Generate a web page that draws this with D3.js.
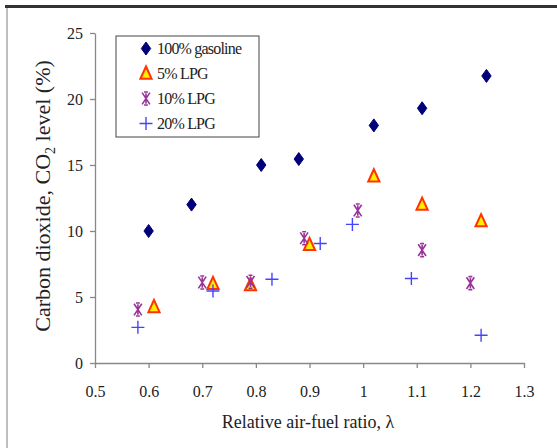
<!DOCTYPE html>
<html>
<head>
<meta charset="utf-8">
<script src="https://cdn.jsdelivr.net/npm/d3@7"></script>
<style>
  body { margin: 0; background: #fff; }
  svg { display: block; }
</style>
</head>
<body>
<svg id="chart" width="557" height="448"></svg>
<script>
// data
var seriesNames = ["100% gasoline", "5% LPG", "10% LPG", "20% LPG"]
var gasolineX = [0.60, 0.68, 0.81, 0.88, 1.02, 1.11, 1.23]
var gasolineY = [10.0, 12.0, 15.0, 15.45, 18.0, 19.3, 21.75]
var lpg5X = [0.61, 0.72, 0.79, 0.90, 1.02, 1.11, 1.22]
var lpg5Y = [4.25, 6.0, 5.9, 8.95, 14.15, 12.0, 10.75]
var lpg10X = [0.58, 0.70, 0.79, 0.89, 0.99, 1.11, 1.20]
var lpg10Y = [4.05, 6.1, 6.15, 9.45, 11.55, 8.55, 6.05]
var lpg20X = [0.58, 0.72, 0.83, 0.92, 0.98, 1.09, 1.22]
var lpg20Y = [2.7, 5.45, 6.35, 9.05, 10.5, 6.4, 2.1]
var xTicks = [0.5, 0.6, 0.7, 0.8, 0.9, 1, 1.1, 1.2, 1.3]
var yTicks = [0, 5, 10, 15, 20, 25]

var dims = {
    width: 557,
    height: 448,
    margin: { top: 33, bottom: 85, left: 95, right: 33 }
}
dims.boundedWidth = dims.width - dims.margin.left - dims.margin.right
dims.boundedHeight = dims.height - dims.margin.top - dims.margin.bottom

var serif = "Liberation Serif"
var svg = d3.select("#chart")

// outer frame (dark top edge, light left edge)
svg.append("line")
    .attr("x1", 5).attr("x2", 557).attr("y1", 6.5).attr("y2", 6.5)
    .attr("stroke", "#333").attr("stroke-width", 3)
svg.append("line")
    .attr("x1", 7).attr("x2", 7).attr("y1", 8).attr("y2", 448)
    .attr("stroke", "#aaa").attr("stroke-width", 1.5)

var g = svg.append("g")
    .attr("transform", "translate(" + dims.margin.left + "," + dims.margin.top + ")")

var xScale = d3.scaleLinear()
    .domain([0.5, 1.3])
    .range([0, dims.boundedWidth])

var yScale = d3.scaleLinear()
    .domain([0, 25])
    .range([dims.boundedHeight, 0])

var xAxis = g.append("g")
    .attr("transform", "translate(0," + dims.boundedHeight + ")")
    .call(d3.axisBottom(xScale).tickValues(xTicks).tickSize(5).tickPadding(18)
        .tickFormat(d3.format("~g")).tickSizeOuter(0))
var yAxis = g.append("g")
    .call(d3.axisLeft(yScale).tickValues(yTicks).tickSize(5).tickPadding(7).tickSizeOuter(0))

g.selectAll(".domain, .tick line").attr("stroke", "#888").attr("stroke-width", 1.3)
xAxis.attr("font-family", serif).attr("font-size", 16)
yAxis.attr("font-family", serif).attr("font-size", 16)
g.selectAll(".tick text").attr("fill", "#222")

// axis titles
svg.append("text")
    .attr("x", 308)
    .attr("y", 428)
    .attr("text-anchor", "middle")
    .attr("font-family", serif)
    .attr("font-size", 18)
    .attr("fill", "#222")
    .text("Relative air-fuel ratio, λ")

var yTitle = svg.append("text")
    .attr("transform", "rotate(-90)")
    .attr("x", -196)
    .attr("y", 50)
    .attr("text-anchor", "middle")
    .attr("font-family", serif)
    .attr("font-size", 22)
    .attr("fill", "#222")
yTitle.append("tspan").text("Carbon dioxide, CO")
yTitle.append("tspan").attr("dy", 5).attr("font-size", 14).text("2")
yTitle.append("tspan").attr("dy", -5).text(" level (%)")

// marker shapes
var symDiamond = function(s) {
    return "M0," + (-s) + "L" + (s * 0.72) + ",0L0," + s + "L" + (-s * 0.72) + ",0Z"
}
var symTriangle = function(s) {
    return "M0," + (-s) + "L" + (s * 0.8) + "," + (s * 0.75) + "L" + (-s * 0.8) + "," + (s * 0.75) + "Z"
}
var symStar = function(s) {
    return "M" + (-s * 0.6) + "," + (-s * 0.9) + "L" + (s * 0.6) + "," + (s * 0.9) +
        "M" + (s * 0.6) + "," + (-s * 0.9) + "L" + (-s * 0.6) + "," + (s * 0.9) +
        "M0," + (-s * 0.8) + "L0," + (s * 0.8) +
        "M" + (-s * 0.3) + "," + (-s) + "L" + (s * 0.3) + "," + (-s) +
        "M" + (-s * 0.3) + "," + s + "L" + (s * 0.3) + "," + s
}
var symPlus = function(s) {
    return "M" + (-s) + ",0L" + s + ",0M0," + (-s) + "L0," + s
}

var styles = [
    { path: symDiamond(6.5), fill: "#00007a", stroke: "#00007a", width: 1 },
    { path: symTriangle(7), fill: "#ffee00", stroke: "#ff3300", width: 2 },
    { path: symStar(6.5), fill: "none", stroke: "#993399", width: 1.6 },
    { path: symPlus(6.5), fill: "none", stroke: "#4444ff", width: 1.4 }
]

var allSeries = [
    d3.zip(gasolineX, gasolineY),
    d3.zip(lpg5X, lpg5Y),
    d3.zip(lpg10X, lpg10Y),
    d3.zip(lpg20X, lpg20Y)
]

allSeries.forEach(function(data, i) {
    var st = styles[i]
    g.append("g").selectAll("path")
        .data(data)
        .enter()
        .append("path")
        .attr("transform", d => "translate(" + xScale(d[0]) + "," + yScale(d[1]) + ")")
        .attr("d", st.path)
        .attr("fill", st.fill)
        .attr("stroke", st.stroke)
        .attr("stroke-width", st.width)
})

// legend
var legend = svg.append("g").attr("transform", "translate(116,36)")
legend.append("rect")
    .attr("x", 0).attr("y", 0)
    .attr("width", 143).attr("height", 101)
    .attr("fill", "#fff")
    .attr("stroke", "#444")
    .attr("stroke-width", 1)

seriesNames.forEach(function(name, i) {
    var st = styles[i]
    var row = legend.append("g").attr("transform", "translate(30," + (12.5 + i * 25) + ")")
    row.append("path")
        .attr("d", st.path)
        .attr("fill", st.fill)
        .attr("stroke", st.stroke)
        .attr("stroke-width", st.width)
    row.append("text")
        .attr("x", 11)
        .attr("y", 5.5)
        .attr("font-family", serif)
        .attr("font-size", 16)
        .attr("letter-spacing", "-0.8")
        .attr("fill", "#222")
        .text(name)
})
</script>
</body>
</html>
